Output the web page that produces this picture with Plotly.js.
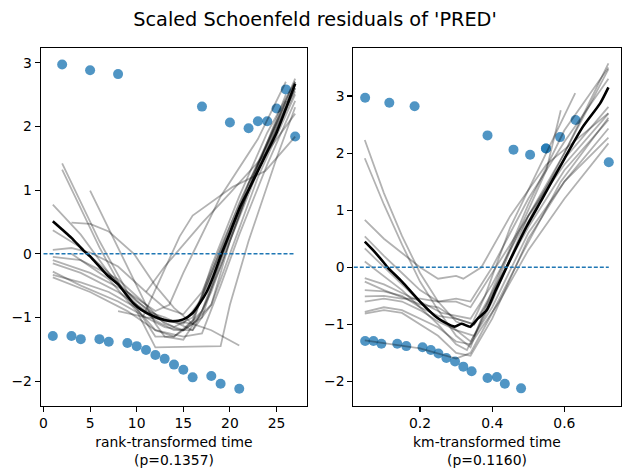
<!DOCTYPE html>
<html>
<head>
<meta charset="utf-8">
<script src="https://cdn.plot.ly/plotly-3.0.1.min.js"></script>
<style>html,body{margin:0;padding:0;background:#fff;}#chart{width:630px;height:475px;}</style>
</head>
<body>
<div id="chart"></div>
<script>
// ---- data ----
const rankTime = [1,2,3,4,5,6,7,8,9,10,11,12,13,14,15,16,17,18,19,20,21,22,23,24,25,26,27];
const kmTime = [0.048,0.048,0.071,0.093,0.115,0.137,0.162,0.185,0.207,0.230,0.251,0.273,0.297,0.320,0.343,0.387,0.387,0.413,0.435,0.459,0.480,0.505,0.549,0.549,0.588,0.631,0.723];
const residuals = [-1.29,2.97,-1.29,-1.34,2.88,-1.34,-1.38,2.82,-1.40,-1.45,-1.51,-1.59,-1.65,-1.74,-1.82,-1.94,2.31,-1.92,-2.04,2.06,-2.12,1.97,2.08,2.08,2.28,2.58,1.84];

const rankLowessX = [1,2,3,4.3,5,6.8,8,9.6,10.5,11.8,13,13.9,15,16,16.8,17.5,18.2,19.1,20,21.1,22,24.1,25,27];
const rankLowessY = [0.51,0.38,0.25,0.05,-0.04,-0.33,-0.48,-0.77,-0.88,-0.98,-1.04,-1.06,-1.03,-0.93,-0.77,-0.6,-0.36,0,0.33,0.74,1.0,1.63,1.9,2.67];
const kmLowessX = [0.047,0.07,0.1,0.11,0.15,0.2,0.245,0.27,0.296,0.315,0.339,0.36,0.385,0.41,0.44,0.495,0.537,0.6,0.65,0.699,0.722];
const kmLowessY = [0.45,0.3,0.08,0,-0.25,-0.6,-0.87,-0.97,-1.04,-0.99,-1.04,-0.9,-0.75,-0.4,0,0.71,1.18,1.9,2.45,2.87,3.15];

// bootstrapped lowess curves, rank-transformed panel
const rankBootX = [
  [2,6,9,12,14,16,18,21,24,26],
  [2,6,9,12,14,16,18,21,24,27],
  [5,8,10,12,13,15,17,19,22,26],
  [1,4,7,10,12,14,16,18,20,23,27],
  [3,5,7,9.7,12,14,16,18,20,23,27],
  [1,4,7,10,13,15,17,19,22,27],
  [1,3,5,8,11,13,15,17,19,22,27],
  [1,4,8,11,13,15,17,19,22,26],
  [1,4,8,11,13,16,18,20,23,27],
  [1,4,8,11,13,15,17,19,22,27],
  [1,4,7,10,12,14,16,18,21,27],
  [1,5,9,12,15,17,19,21,24,27],
  [10.7,12.5,14.6,16,20.3,23.8,27],
  [11,13,17,20,24,27],
  [3,7,10,12,19,20,22,25,27],
  [8,11,14,16,18,21],
  [1,5,9,12,13.5,15,16,19,23,26]
];
const rankBootY = [
  [1.42,0.2,-0.6,-1.0,-1.15,-1.0,-0.3,0.7,1.7,2.4],
  [1.32,0.1,-0.7,-1.2,-1.3,-1.1,-0.2,0.9,1.9,2.7],
  [0.99,0.1,-0.5,-1.1,-1.3,-1.35,-0.9,-0.1,1.0,2.5],
  [0.77,0.3,-0.3,-0.8,-1.05,-1.2,-1.2,-0.6,0.2,1.3,2.6],
  [0.49,0.47,0.35,0,-0.5,-0.85,-1.1,-0.8,0.2,1.4,2.75],
  [0.37,0.1,-0.3,-0.75,-1.05,-1.1,-0.7,0,1.0,2.55],
  [0.06,0.09,0.02,-0.2,-0.6,-0.85,-0.95,-0.6,0.1,1.1,2.65],
  [-0.05,-0.1,-0.4,-0.8,-1.1,-1.2,-1.0,-0.1,1.1,2.3],
  [-0.15,-0.3,-0.6,-0.9,-1.0,-1.2,-0.8,0,1.2,2.5],
  [-0.28,-0.5,-0.75,-1.0,-1.15,-1.2,-0.9,-0.2,1.0,2.6],
  [-0.33,-0.45,-0.6,-0.85,-1.3,-1.3,-1.05,-0.3,0.8,2.7],
  [-0.37,-0.6,-0.9,-1.2,-1.3,-1.25,-0.5,0.3,1.4,2.4],
  [-0.98,-0.4,0.27,0.6,1.05,1.3,1.84],
  [-0.6,-0.2,0.48,0.95,1.6,2.2],
  [0.0,-0.4,-0.9,-1.47,-1.45,-0.8,0.2,1.5,2.3],
  [-0.9,-1.0,-1.05,-1.1,-1.2,-1.44],
  [-0.1,-0.3,-0.6,-0.9,-0.8,-0.3,0,0.9,1.8,2.7]
];

// bootstrapped lowess curves, km-transformed panel
const kmBootX = [
  [0.047,0.1,0.15,0.2,0.25,0.3,0.34,0.38,0.45,0.55,0.63],
  [0.047,0.1,0.15,0.2,0.25,0.3,0.34,0.4,0.5,0.6,0.722],
  [0.047,0.1,0.15,0.2,0.25,0.3,0.32,0.37,0.45,0.55,0.722],
  [0.047,0.1,0.15,0.2,0.25,0.3,0.34,0.4,0.5,0.6,0.722],
  [0.047,0.1,0.15,0.2,0.25,0.3,0.35,0.4,0.5,0.6,0.722],
  [0.047,0.1,0.15,0.2,0.26,0.3,0.34,0.4,0.5,0.6,0.722],
  [0.047,0.1,0.15,0.2,0.25,0.3,0.35,0.42,0.5,0.6,0.722],
  [0.047,0.1,0.15,0.2,0.25,0.3,0.34,0.4,0.5,0.6,0.722],
  [0.047,0.1,0.15,0.2,0.25,0.3,0.34,0.4,0.5,0.6,0.722],
  [0.047,0.1,0.15,0.2,0.25,0.3,0.34,0.42,0.5,0.6,0.722],
  [0.047,0.1,0.15,0.2,0.25,0.3,0.34,0.4,0.5,0.6,0.722],
  [0.047,0.1,0.2,0.3,0.34,0.4,0.48,0.59,0.722],
  [0.047,0.1,0.15,0.2,0.25,0.3,0.33,0.38,0.45,0.55,0.59],
  [0.047,0.1,0.2,0.25,0.3,0.35,0.4,0.5,0.6,0.722]
];
const kmBootY = [
  [2.23,1.3,0.55,-0.1,-0.6,-0.95,-1.05,-0.5,0.7,2.0,3.05],
  [1.91,1.1,0.4,-0.25,-0.75,-1.2,-1.4,-0.4,1.1,2.4,3.5],
  [0.83,0.5,0.25,0.0,-0.2,-0.15,-0.2,0.0,0.9,1.8,2.7],
  [0.54,0.2,-0.1,-0.4,-0.6,-0.55,-0.6,0.0,1.2,2.2,3.3],
  [0.33,0.0,-0.3,-0.6,-0.9,-1.1,-1.2,-0.6,0.9,2.0,3.57],
  [-0.19,-0.3,-0.45,-0.6,-0.8,-0.85,-0.9,-0.3,0.9,1.9,2.81],
  [-0.40,-0.42,-0.5,-0.7,-0.85,-0.9,-1.0,-0.2,0.7,1.7,2.58],
  [-0.51,-0.5,-0.55,-0.55,-0.6,-0.6,-0.7,-0.1,0.9,1.8,2.69],
  [-0.60,-0.55,-0.6,-0.75,-0.95,-1.1,-1.3,-0.7,0.6,1.5,2.43],
  [-0.78,-0.7,-0.75,-0.9,-1.05,-1.3,-1.35,-0.6,0.3,1.2,2.17],
  [-0.81,-0.75,-0.8,-1.0,-1.2,-1.5,-1.55,-0.9,0.5,1.5,2.27],
  [-1.28,-1.33,-1.42,-1.6,-1.5,-0.8,0.2,1.5,2.62],
  [0.1,-0.15,-0.4,-0.7,-1.0,-1.35,-1.45,-0.8,0.3,1.7,2.75],
  [-0.25,-0.4,-0.65,-0.7,-0.9,-1.0,-0.5,0.8,2.0,3.47]
];

const xTitles = ['rank-transformed time<br>(p=0.1357)', 'km-transformed time<br>(p=0.1160)'];
const chartTitle = "Scaled Schoenfeld residuals of 'PRED'";

// ---- build traces ----
const C0 = '#1f77b4';
const traces = [];
function panel(xs, bootX, bootY, lowX, lowY, xa, ya) {
  traces.push({type:'scatter', mode:'markers', x:xs, y:residuals, xaxis:xa, yaxis:ya,
    marker:{color:C0, size:10, opacity:0.78, line:{width:0}}, hoverinfo:'skip'});
  for (let i = 0; i < bootX.length; i++) {
    traces.push({type:'scatter', mode:'lines', x:bootX[i], y:bootY[i], xaxis:xa, yaxis:ya,
      line:{color:'rgba(0,0,0,0.3)', width:1.8}, hoverinfo:'skip'});
  }
  traces.push({type:'scatter', mode:'lines', x:lowX, y:lowY, xaxis:xa, yaxis:ya,
    line:{color:'#000', width:2.6, shape:'spline', smoothing:0.6}, hoverinfo:'skip'});
  traces.push({type:'scatter', mode:'lines', x:[0, Math.max(...xs)], y:[0,0], xaxis:xa, yaxis:ya,
    line:{color:C0, width:1.4, dash:'4px,2px'}, hoverinfo:'skip'});
}
panel(rankTime, rankBootX, rankBootY, rankLowessX, rankLowessY, 'x', 'y');
panel(kmTime, kmBootX, kmBootY, kmLowessX, kmLowessY, 'x2', 'y2');

const font = {family:'DejaVu Sans, sans-serif', size:13.9, color:'#000'};
const axBase = {showline:true, mirror:true, linecolor:'#000', linewidth:1.1, ticks:'outside',
  ticklen:4.9, tickwidth:1.1, tickcolor:'#000', showgrid:false, zeroline:false,
  tickfont:font, automargin:false};
const yDom = [1-405.7/475, 1-48.3/475];

const layout = {
  width:630, height:475, margin:{l:0,r:0,t:0,b:0}, showlegend:false,
  paper_bgcolor:'#fff', plot_bgcolor:'#fff', font:font,
  title:{text:chartTitle, font:{family:'DejaVu Sans, sans-serif', size:19.3, color:'#000'},
    x:0.5, xanchor:'center', y:1-19/475, yanchor:'middle'},
  xaxis:Object.assign({}, axBase, {domain:[40.7/630, 307.3/630], range:[-0.3, 28.3],
    tickvals:[0,5,10,15,20,25], anchor:'y',
    title:{text:xTitles[0], font:font, standoff:6}}),
  yaxis:Object.assign({}, axBase, {domain:yDom, range:[-2.385, 3.225],
    tickvals:[-2,-1,0,1,2,3], anchor:'x'}),
  xaxis2:Object.assign({}, axBase, {domain:[353.3/630, 620.7/630], range:[0.0152, 0.756],
    tickvals:[0.2,0.4,0.6], ticktext:['0.2','0.4','0.6'], anchor:'y2',
    title:{text:xTitles[1], font:font, standoff:6}}),
  yaxis2:Object.assign({}, axBase, {domain:yDom, range:[-2.424, 3.835],
    tickvals:[-2,-1,0,1,2,3], anchor:'x2'})
};

Plotly.newPlot('chart', traces, layout, {staticPlot:true, displayModeBar:false});
</script>
</body>
</html>
